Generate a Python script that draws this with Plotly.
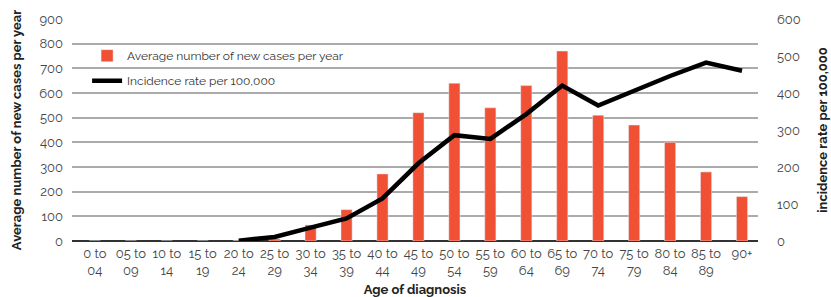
import plotly.graph_objects as go

categories = ["0 to<br>04", "05 to<br>09", "10 to<br>14", "15 to<br>19", "20 to<br>24",
              "25 to<br>29", "30 to<br>34", "35 to<br>39", "40 to<br>44", "45 to<br>49",
              "50 to<br>54", "55 to<br>59", "60 to<br>64", "65 to<br>69", "70 to<br>74",
              "75 to<br>79", "80 to<br>84", "85 to<br>89", "90+"]
new_cases = [0, 0, 0, 0, 1, 8, 65, 127, 272, 520, 640, 540, 630, 770, 510, 470, 400, 280, 180]
incidence_rate = [None, None, None, None, 1, 11, 36, 61, 115, 210, 286, 276, 343, 420, 366, 406, 446, 482, 460]

font_family = "Raleway, Lato, 'Open Sans', sans-serif"

fig = go.Figure()
fig.add_trace(go.Bar(x=categories, y=new_cases, name="Average number of new cases per year",
                     marker=dict(color="#F05033"), yaxis="y", legendgroup="a"))
fig.add_trace(go.Scatter(x=categories, y=incidence_rate, name="Incidence rate per 100,000",
                         mode="lines", line=dict(color="black", width=4.5), yaxis="y2",
                         connectgaps=False, legendgroup="b"))

fig.update_layout(
    width=831, height=297,
    margin=dict(l=72, r=73, t=19, b=56),
    plot_bgcolor="white", paper_bgcolor="white",
    font=dict(family=font_family, size=13, color="#333"),
    bargap=0.69,
    showlegend=True,
    legend=dict(x=0.022, y=0.9, xanchor="left", yanchor="top",
                bgcolor="rgba(0,0,0,0)", font=dict(size=12, color="#333"),
                tracegroupgap=6, itemwidth=30),
    xaxis=dict(type="category", range=[-0.637, 18.445], showgrid=False, ticks="",
               tickfont=dict(size=13, color="#444"), automargin=False, ticklabelstandoff=3,
               title=dict(text="<b>Age of diagnosis</b>", font=dict(size=13, color="#222"), standoff=9),
               tickangle=0),
    yaxis=dict(range=[0, 900], dtick=100, showgrid=True, gridcolor="#ababab", gridwidth=1.6,
               zeroline=True, zerolinecolor="#333", zerolinewidth=2, ticks="", automargin=False,
               tickfont=dict(size=13, color="#444"), ticklabelstandoff=8,
               title=dict(text="<b>Average number of new cases per year</b>", font=dict(size=13, color="#222"), standoff=14)),
    yaxis2=dict(range=[0, 600], dtick=100, overlaying="y", side="right", showgrid=False,
                zeroline=False, ticks="", tickfont=dict(size=13, color="#444"), automargin=False,
                ticklabelstandoff=18,
                title=dict(text="<b>incidence rate per 100,000</b>", font=dict(size=13, color="#222"), standoff=18)),
)

fig.write_html("out.html", config={"displayModeBar": False},
               post_script="document.body.style.margin='0';")
